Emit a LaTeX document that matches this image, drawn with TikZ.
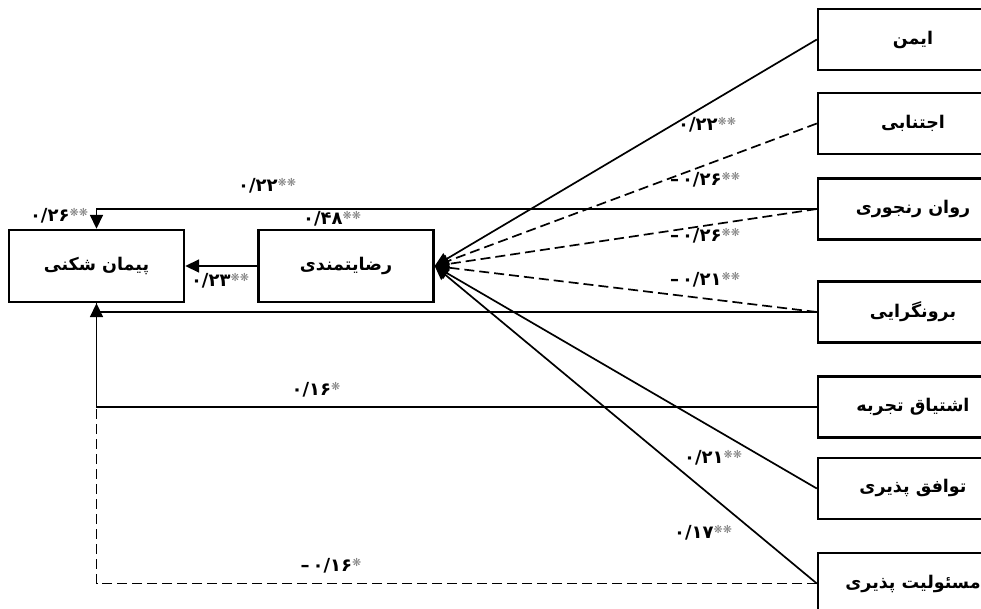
\documentclass[tikz,border=0pt]{standalone}
\usepackage{fontspec}
\usepackage{xcolor}
\usetikzlibrary{arrows.meta}
\TeXXeTstate=1
\newfontfamily\arabicfont[Script=Arabic]{DejaVu Sans}
\newfontfamily\starfont{DejaVu Sans}
\newcommand\mystars[1]{\raisebox{0.7ex}{\starfont\fontsize{11}{11}\selectfont\color{gray}#1}}
\newcommand\mylab[2]{{\arabicfont\bfseries #1}\mystars{#2}}
\newcommand\myneg[2]{{\starfont\bfseries –\,}{\arabicfont\bfseries #1}\mystars{#2}}
\newcommand\fa[1]{{\arabicfont\bfseries\beginR #1\endR}}
\begin{document}
\begin{tikzpicture}[x=1pt,y=-1pt,
  box/.style={draw, line width=2.4pt, inner sep=0pt, font=\fontsize{17.5}{20}\selectfont},
  lbox/.style={box, minimum width=175pt, minimum height=72pt},
  rbox/.style={box, minimum width=190pt, minimum height=61pt},
  arr/.style={-{Triangle[length=14pt,width=13pt]}, line width=1.7pt},
  plain/.style={line width=1.7pt},
  dsh/.style={line width=1.7pt, dash pattern=on 10pt off 5pt},
  lab/.style={inner sep=0pt, font=\fontsize{18}{20}\selectfont}]
\useasboundingbox (0,0) rectangle (981,609);
\fill[white] (0,0) rectangle (981,609);
% main boxes
\node[lbox] (pay) at (96.5,266) {\fa{پیمان شکنی}};
\node[lbox] (rez) at (346,266) {\fa{رضایتمندی}};
% right boxes
\node[rbox] (aym) at (913,39.5) {\fa{ایمن}};
\node[rbox] (ejt) at (913,123.5) {\fa{اجتنابی}};
\node[rbox] (rav) at (913,209) {\fa{روان رنجوری}};
\node[rbox] (bor) at (913,312) {\fa{برونگرایی}};
\node[rbox] (esh) at (913,407) {\fa{اشتیاق تجربه}};
\node[rbox] (tav) at (913,488.5) {\fa{توافق پذیری}};
\node[rbox] (mas) at (913,583.5) {\fa{مسئولیت پذیری}};
% junction
\coordinate (j) at (pay.south |- esh.west);
% connectors to rez
\draw[arr] (aym.west) -- (rez.east);
\draw[arr,dsh] (ejt.west) -- (rez.east);
\draw[arr,dsh] (rav.west) -- (rez.east);
\draw[arr,dsh] (bor.west) -- (rez.east);
\draw[arr] (tav.west) -- (rez.east);
\draw[arr] (mas.west) -- (rez.east);
% connectors to pay
\draw[arr] (rez.west) -- (pay.east);
\draw[arr] (rav.west) -| (pay.north);
\draw[plain] (bor.west) -| (pay.south);
\draw[arr] (esh.west) -| (pay.south);
\draw[dsh] (mas.west) -| (j);
% labels
\node[lab] (l1) at (267,186) {\mylab{۰/۲۲}{❋❋}};
\node[lab] (l2) at (59,216) {\mylab{۰/۲۶}{❋❋}};
\node[lab] (l3) at (332,219) {\mylab{۰/۴۸}{❋❋}};
\node[lab] (l4) at (220,281) {\mylab{۰/۲۳}{❋❋}};
\node[lab] (l5) at (707,125) {\mylab{۰/۲۲}{❋❋}};
\node[lab] (l6) at (705,180) {\myneg{۰/۲۶}{❋❋}};
\node[lab] (l7) at (705,236) {\myneg{۰/۲۶}{❋❋}};
\node[lab] (l8) at (705,280) {\myneg{۰/۲۱}{❋❋}};
\node[lab] (l9) at (713,458) {\mylab{۰/۲۱}{❋❋}};
\node[lab] (l10) at (703,533) {\mylab{۰/۱۷}{❋❋}};
\node[lab] (l11) at (316,390) {\mylab{۰/۱۶}{❋}};
\node[lab] (l12) at (331,566) {\myneg{۰/۱۶}{❋}};
\end{tikzpicture}
\end{document}
